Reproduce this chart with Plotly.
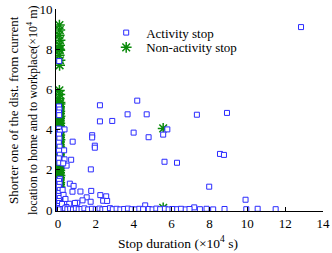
import plotly.graph_objects as go

# ---- data ----
act_x = [12.84, 4.69, 7.34, 8.93, 5.78, 5.56, 4.79, 5.63, 6.29, 8.56, 8.77, 7.99, 9.91, 4.61, 7.20,
         2.22, 4.19, 3.68, 2.22, 2.87, 4.00, 1.81, 1.81, 1.95, 1.95, 0.78, 0.35, 0.70, 0.35, 0.46,
         1.74, 0.63, 0.83, 0.77, 1.19, 1.76, 2.24, 2.55, 2.39, 2.60, 1.52, 1.30, 1.02, 0.60,
         0.07, 0.06, 0.08, 0.06, 0.07, 0.05, 0.10, 0.06, 0.08, 0.05, 0.09, 0.06, 0.10, 0.05, 0.08,
         0.10, 0.06, 0.09, 0.05, 0.10, 0.07, 0.05, 0.10, 0.06, 0.08, 0.05, 0.09, 0.06,
         0.33, 0.28, 0.25, 0.30, 0.40, 0.22, 0.45, 0.30, 0.37, 0.90, 1.73,
         0.50, 0.65, 0.80, 0.95, 1.10, 1.25, 1.40, 1.60, 1.80, 2.00, 2.20, 2.35, 2.50, 2.75, 2.90,
         3.10, 3.30, 3.50, 3.70, 3.90, 4.10, 4.30, 4.50, 4.80, 5.00, 5.20, 5.40, 5.65, 5.85, 6.05,
         6.30, 6.50, 6.75, 6.95, 7.50, 7.85, 8.20, 8.80, 9.95, 10.55, 11.50]
act_y = [9.10, 4.76, 4.74, 4.83, 4.01, 3.75, 3.62, 2.40, 2.35, 2.79, 2.74, 1.16, 0.51, 0.23, 0.13,
         5.21, 5.44, 4.76, 4.41, 4.43, 3.85, 3.72, 3.61, 3.20, 3.10, 3.40, 4.01, 2.50, 2.52, 2.21,
         2.02, 1.31, 1.20, 0.91, 0.92, 0.95, 0.74, 0.68, 0.46, 0.45, 0.63, 0.48, 0.36, 0.31,
         7.41, 5.15, 5.00, 4.85, 4.72, 4.05, 3.90, 3.75, 3.55, 3.35, 3.15, 2.95, 2.75, 2.57, 2.35,
         1.55, 1.45, 1.30, 1.15, 1.00, 0.85, 0.70, 0.60, 0.45, 0.35, 0.20, 0.10, 0.03,
         2.97, 2.32, 1.00, 0.75, 0.55, 0.30, 0.15, 0.05, 0.08, 0.35, 0.41,
         0.04, 0.06, 0.03, 0.07, 0.04, 0.05, 0.08, 0.03, 0.06, 0.04, 0.07, 0.03, 0.05, 0.09, 0.04,
         0.06, 0.03, 0.05, 0.07, 0.04, 0.03, 0.06, 0.04, 0.05, 0.03, 0.07, 0.04, 0.06, 0.03, 0.05,
         0.04, 0.06, 0.03, 0.05, 0.04, 0.06, 0.03, 0.05, 0.04, 0.06, 0.04]

non_x = [5.56, 5.56,
         0.08, 0.10, 0.07, 0.11, 0.09, 0.08, 0.10, 0.07, 0.11, 0.09, 0.08, 0.10, 0.07, 0.11,
         0.04, 0.06, 0.05, 0.07, 0.04, 0.06, 0.05, 0.07, 0.04, 0.06, 0.05, 0.07, 0.04, 0.06, 0.05,
         0.07, 0.04, 0.06, 0.05, 0.07, 0.04, 0.06, 0.05, 0.07, 0.04, 0.06, 0.05, 0.07, 0.04, 0.06,
         0.05, 0.07, 0.04, 0.06, 0.05, 0.07, 0.04, 0.06, 0.05, 0.07, 0.04, 0.06, 0.05, 0.07, 0.04,
         0.09, 0.10, 0.08, 0.09, 0.11, 0.09, 0.10, 0.08, 0.09, 0.11, 0.09, 0.10, 0.08, 0.09, 0.11,
         0.09, 0.10, 0.08, 0.09, 0.11, 0.09, 0.10, 0.08, 0.09, 0.11, 0.09, 0.10, 0.08, 0.09, 0.11,
         0.09, 0.10, 0.08, 0.09, 0.11, 0.09, 0.10, 0.08, 0.09, 0.11, 0.09, 0.10, 0.08, 0.09, 0.11]
non_y = [4.06, 0.11,
         9.20, 8.95, 8.70, 8.45, 8.20, 8.00, 7.95, 7.70, 7.45, 7.20, 5.95, 5.75, 5.55, 5.35,
         0.02, 0.13, 0.25, 0.38, 0.49, 0.60, 0.73, 0.84, 0.95, 1.08, 1.19, 1.31, 1.44, 1.55, 1.66,
         1.79, 1.90, 2.01, 2.14, 2.26, 2.37, 2.49, 2.62, 2.73, 2.84, 2.97, 3.08, 3.19, 3.32, 3.43,
         3.55, 3.68, 3.79, 3.90, 4.03, 4.14, 4.26, 4.38, 4.49, 4.61, 4.74, 4.85, 4.96, 5.09, 5.21,
         0.07, 0.19, 0.31, 0.43, 0.55, 0.66, 0.79, 0.90, 1.02, 1.14, 1.25, 1.37, 1.49, 1.61, 1.72,
         1.85, 1.96, 2.08, 2.20, 2.31, 2.43, 2.56, 2.67, 2.79, 2.90, 3.02, 3.14, 3.26, 3.38, 3.49,
         3.61, 3.73, 3.84, 3.97, 4.08, 4.20, 4.32, 4.44, 4.55, 4.67, 4.79, 4.91, 5.02, 5.14, 5.27]

x_ticks = [0, 2, 4, 6, 8, 10, 12, 14]
y_ticks = [0, 2, 4, 6, 8, 10]

FONT = "Liberation Serif"
BLUE = "#2b2bff"
GREEN = "#0a8a0a"

fig = go.Figure()
fig.add_trace(go.Scatter(
    x=non_x, y=non_y, mode="markers", name="Non-activity stop", legend="legend2",
    marker=dict(symbol="asterisk-open", size=9, color=GREEN, line=dict(color=GREEN, width=1.5)),
))
fig.add_trace(go.Scatter(
    x=act_x, y=act_y, mode="markers", name="Activity stop", legend="legend",
    marker=dict(symbol="square", size=5, color="white", line=dict(color=BLUE, width=1)),
))

axis_common = dict(showline=True, linecolor="black", linewidth=1, ticks="inside", ticklen=4,
                   tickcolor="black", showgrid=False, zeroline=False, automargin=False,
                   tickfont=dict(family=FONT, size=13, color="black"))
fig.update_xaxes(range=[-0.1, 14], tickvals=x_ticks, **axis_common)
fig.update_yaxes(range=[-0.05, 10], tickvals=y_ticks, **axis_common)

leg_common = dict(xanchor="left", yanchor="middle", bgcolor="rgba(0,0,0,0)",
                  font=dict(family=FONT, size=13, color="black"))
fig.update_layout(
    template="none",
    width=332, height=253,
    margin=dict(l=56, r=9, t=9, b=42, autoexpand=False),
    paper_bgcolor="white", plot_bgcolor="white",
    font=dict(family=FONT, size=13, color="black"),
    showlegend=True,
    legend=dict(x=0.188, y=0.883, **leg_common),
    legend2=dict(x=0.188, y=0.81, **leg_common),
    annotations=[
        dict(text="Shorter one of the dist. from current", xref="paper", yref="paper",
             x=-0.161, y=0.5, xanchor="center", yanchor="middle", textangle=-90,
             showarrow=False, font=dict(family=FONT, size=13, color="black")),
        dict(text="location to home and to workplace(×10<sup>4</sup> m)", xref="paper", yref="paper",
             x=-0.09, y=0.5, xanchor="center", yanchor="middle", textangle=-90,
             showarrow=False, font=dict(family=FONT, size=12, color="black")),
        dict(text="Stop duration (×10<sup>4</sup> s)", xref="paper", yref="paper",
             x=0.456, y=-0.155, xanchor="center", yanchor="middle",
             showarrow=False, font=dict(family=FONT, size=13.5, color="black")),
    ],
)

fig.write_html("out.html", config={"displayModeBar": False},
               post_script="document.body.style.margin='0';document.body.style.padding='0';")
